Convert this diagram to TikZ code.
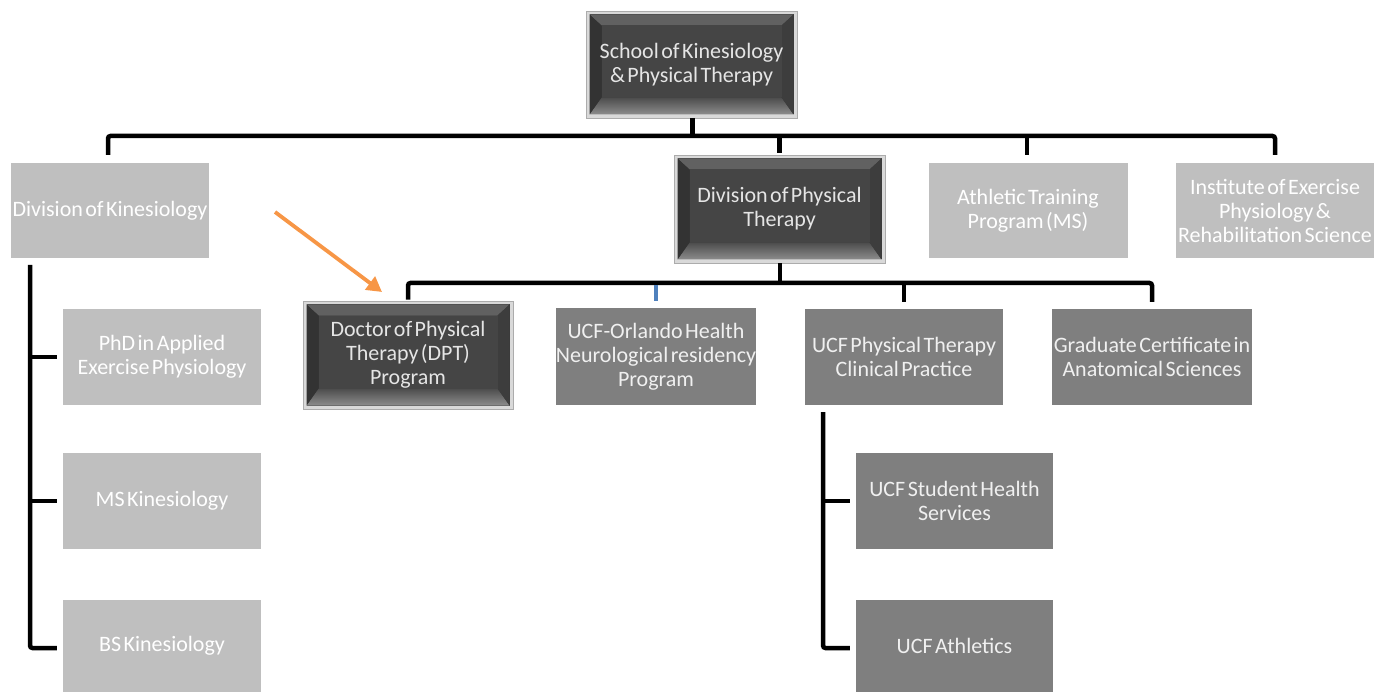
\documentclass[tikz,border=0pt]{standalone}
\usepackage{fontspec}
\setmainfont{Carlito}[WordSpace=0.5]
\usetikzlibrary{calc,arrows.meta}
\definecolor{lightbox}{HTML}{BFBFBF}
\definecolor{midbox}{HTML}{7F7F7F}
\definecolor{darkface}{HTML}{454545}
\definecolor{orangearrow}{HTML}{F79646}
\definecolor{bluelink}{HTML}{4F81BD}
\tikzset{
  base/.style={rectangle, inner sep=0pt, align=center,
    font=\fontsize{22}{24}\selectfont},
  lightnode/.style={base, fill=lightbox, text=white, minimum width=198pt, minimum height=95pt},
  midnode/.style={base, fill=midbox, text=white!94!black, minimum width=198pt, minimum height=96pt},
  darknode/.style={base, fill=gray!30, draw=gray!65, line width=0.8pt, text=white!90!black,
    minimum width=210pt, minimum height=107pt,
    path picture={
      \path (path picture bounding box.north west) coordinate (pA)
            (path picture bounding box.south east) coordinate (pB);
      \coordinate (TL) at ($(pA)+(3.5pt,-3.5pt)$);
      \coordinate (BR) at ($(pB)+(-3.5pt,3.5pt)$);
      \coordinate (TR) at (BR |- TL);
      \coordinate (BL) at (TL |- BR);
      \coordinate (fTL) at ($(TL)+(12pt,-11pt)$);
      \coordinate (fTR) at ($(TR)+(-12pt,-11pt)$);
      \coordinate (fBR) at ($(BR)+(-12pt,17pt)$);
      \coordinate (fBL) at ($(BL)+(12pt,17pt)$);
      \fill[black!78] (TL) rectangle (BR);
      \fill[black!62] (TL) -- (TR) -- (fTR) -- (fTL) -- cycle;
      \shade[top color=black!70, bottom color=black!45] (BL) -- (BR) -- (fBR) -- (fBL) -- cycle;
      \fill[black!80] (TL) -- (fTL) -- (fBL) -- (BL) -- cycle;
      \fill[black!76] (TR) -- (fTR) -- (fBR) -- (BR) -- cycle;
      \fill[darkface] (fTL) rectangle (fBR);
    }},
  conn/.style={line width=4.5pt, black, rounded corners=2.5pt},
  bluedrop/.style={line width=3.5pt, bluelink},
  pointer/.style={line width=3.8pt, orangearrow, -{Triangle[length=15pt,width=16pt]}}
}
\begin{document}
\begin{tikzpicture}[x=1pt,y=-1pt]
\useasboundingbox (0,0) rectangle (1388,692);
% nodes
\node[darknode, minimum width=211pt, minimum height=107pt] (top) at (691.5,64.5) {School of Kinesiology\\\& Physical Therapy};
\node[lightnode] (divK) at (110,210.5) {Division of Kinesiology};
\node[darknode, minimum width=211pt, minimum height=108pt] (divPT) at (779.5,209) {Division of Physical\\Therapy};
\node[lightnode, minimum width=199pt] (ath) at (1028,210.5) {Athletic Training\\Program (MS)};
\node[lightnode] (inst) at (1275,210.5) {Institute of Exercise\\Physiology \&\\Rehabilitation Science};
\node[darknode, minimum width=210pt, minimum height=108pt] (dpt) at (408,355) {Doctor of Physical\\Therapy (DPT)\\Program};
\node[midnode, minimum height=97pt] (orl) at (656,356.5) {UCF-Orlando Health\\Neurological residency\\Program};
\node[midnode] (clin) at (904,357) {UCF Physical Therapy\\Clinical Practice};
\node[midnode, minimum width=200pt] (grad) at (1152,357) {Graduate Certificate in\\Anatomical Sciences};
\node[lightnode, minimum height=96pt] (phd) at (162,357) {PhD in Applied\\Exercise Physiology};
\node[lightnode, minimum height=96pt] (ms) at (162,501) {MS Kinesiology};
\node[lightnode, minimum height=92pt] (bs) at (162,646) {BS Kinesiology};
\node[midnode, minimum width=197pt] (sh) at (954.5,501) {UCF Student Health\\Services};
\node[midnode, minimum width=197pt, minimum height=92pt] (athl) at (954.5,646) {UCF Athletics};
% top level connectors
\coordinate (b1) at (692.5,136);
\draw[conn] (top.south -| b1) -- (b1);
\draw[conn] ([xshift=-2pt,yshift=8pt]divK.north) |- (b1) -| ([yshift=8pt]inst.north);
\draw[conn] (divPT.north |- b1) -- ([yshift=2pt]divPT.north);
\draw[conn] ([xshift=-1pt]ath.north |- b1) -- ([xshift=-1pt,yshift=8pt]ath.north);
% second level connectors
\coordinate (b2) at (780,283);
\draw[conn] (divPT.south -| b2) -- (b2);
\draw[conn] ([yshift=1pt]dpt.north) |- (b2) -| ([yshift=7pt]grad.north);
\draw[conn] (clin.north |- b2) -- ([yshift=7pt]clin.north);
\draw[bluedrop] ([yshift=-2.5pt]orl.north |- b2) -- ([yshift=7pt]orl.north);
% kinesiology branches
\coordinate (kv) at (30,265);
\draw[conn] (kv) |- ([xshift=-6pt,yshift=-2pt]bs.west);
\draw[conn] (kv |- phd.west) -- ([xshift=-6pt]phd.west);
\draw[conn] (kv |- ms.west) -- ([xshift=-6pt]ms.west);
% clinical practice branches
\coordinate (cv) at (823,412);
\draw[conn] (cv) |- ([xshift=-6pt,yshift=-2pt]athl.west);
\draw[conn] (cv |- sh.west) -- ([xshift=-6pt]sh.west);
% orange pointer
\coordinate (arrowtail) at (275,212);
\coordinate (arrowhead) at (382,292);
\draw[pointer] (arrowtail) -- (arrowhead);
\end{tikzpicture}
\end{document}
